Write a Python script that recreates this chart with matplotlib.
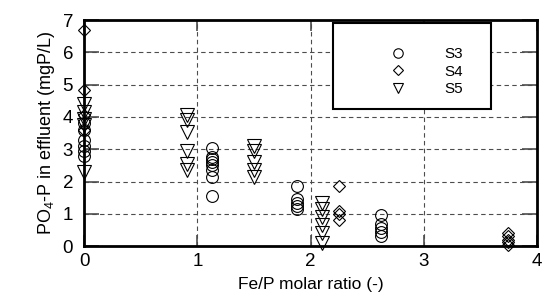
import matplotlib
matplotlib.use("Agg")
import matplotlib.pyplot as plt
from matplotlib.patches import Rectangle

plt.rcParams['font.family'] = ['Liberation Sans', 'DejaVu Sans']
plt.rcParams['mathtext.default'] = 'regular'

# S3 (circles)
s3_x = [0.0, 0.0, 0.0, 0.0, 0.0, 0.0,
        1.13, 1.13, 1.13, 1.13, 1.13, 1.13, 1.13, 1.13,
        1.88, 1.88, 1.88, 1.88, 1.88,
        2.62, 2.62, 2.62, 2.62, 2.62]
s3_y = [3.8, 3.6, 3.3, 3.1, 2.95, 2.8,
        3.05, 2.75, 2.7, 2.6, 2.5, 2.35, 2.15, 1.55,
        1.85, 1.45, 1.35, 1.25, 1.15,
        0.95, 0.7, 0.55, 0.45, 0.3]

# S4 (diamonds)
s4_x = [0.0, 0.0, 0.0, 0.0,
        2.25, 2.25, 2.25, 2.25,
        3.74, 3.74, 3.74, 3.74, 3.74]
s4_y = [6.7, 4.85, 4.05, 3.6,
        1.85, 1.1, 1.0, 0.8,
        0.4, 0.3, 0.2, 0.12, 0.05]

# S5 (triangles)
s5_x = [0.0, 0.0, 0.0, 0.0, 0.0,
        0.91, 0.91, 0.91, 0.91, 0.91, 0.91,
        1.5, 1.5, 1.5, 1.5, 1.5,
        2.1, 2.1, 2.1, 2.1, 2.1, 2.1]
s5_y = [4.4, 4.15, 3.95, 3.75, 2.3,
        4.05, 3.9, 3.55, 2.95, 2.55, 2.35,
        3.1, 2.95, 2.6, 2.35, 2.15,
        1.35, 1.15, 0.9, 0.65, 0.4, 0.1]

fig = plt.figure(figsize=(5.43, 3.05), dpi=100)
ax = fig.add_axes([0.155, 0.193, 0.834, 0.741])

mk = dict(linestyle='none', markerfacecolor='none', markeredgecolor='black',
          markeredgewidth=0.8, clip_on=False, zorder=4)
ax.plot(s3_x, s3_y, marker='o', label='S3', markersize=8.5, **mk)
ax.plot(s4_x, s4_y, marker='D', label='S4', markersize=6.2, **mk)
ax.plot(s5_x, s5_y, marker='v', label='S5', markersize=9.5, **mk)

ax.set_xlim(0, 4)
ax.set_ylim(0, 7)
ax.set_xticks([0, 1, 2, 3, 4])
ax.set_yticks(range(8))
ax.grid(True, color='0.3', linestyle=(0, (4, 3)), linewidth=0.8)
ax.tick_params(axis='both', direction='in', top=True, right=True,
               labelsize=13.5, width=1.2, color='0.3')
ax.tick_params(axis='y', length=11, pad=8)
ax.tick_params(axis='x', length=8, pad=5)
for s in ax.spines.values():
    s.set_linewidth(2)
    s.set_zorder(5)

ax.set_xlabel('Fe/P molar ratio (-)', fontsize=12.5, labelpad=5)
ax.set_ylabel('PO$_4$-P in effluent (mgP/L)', fontsize=13, labelpad=4)

# legend box
ax.add_patch(Rectangle((0.55, 0.606), 0.348, 0.381, transform=ax.transAxes,
                       facecolor='white', edgecolor='black', linewidth=1.5, zorder=5))
leg = ax.legend(loc='center', bbox_to_anchor=(0.752, 0.772), frameon=False,
                fontsize=11, handletextpad=2.3, labelspacing=0.22, handlelength=1.5,
                markerscale=0.8)
leg.set_zorder(6)

fig.savefig('out.png', dpi=100)
